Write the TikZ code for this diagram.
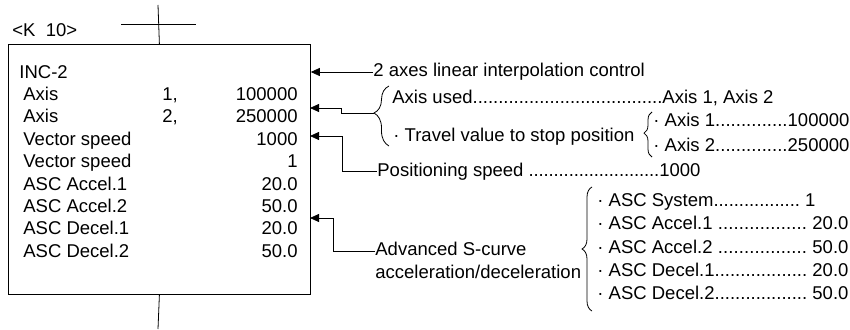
\documentclass[tikz,border=0pt]{standalone}
\usepackage{fontspec}
\setmainfont{Liberation Sans}
\usetikzlibrary{arrows.meta, positioning, decorations.pathreplacing}
\newcommand\dotrow[3]{\hbox to #1{#2\xleaders\hbox to 5pt{\hss.\hss}\hfill #3}}

\begin{document}
\begin{tikzpicture}[x=1pt, y=-1pt, line width=0.8pt,
    every node/.style={inner sep=0pt, text height=13pt, text depth=4pt,
                       font=\fontsize{18.5}{22}\selectfont},
    txt/.style={anchor=west},
    num/.style={anchor=east},
    feed/.style={-{Triangle[length=9pt, width=8pt]}},
    lbrace/.style n args={2}{decorate, decoration={brace, amplitude=#1, aspect=#2}}]
    \useasboundingbox (0,0) rectangle (850,329);
    % instruction box and contact
    \node[draw, anchor=north west, minimum width=302pt, minimum height=250pt] (inc) at (8,44) {};
    \draw (inc.north) -- (158,5);
    \draw (121,24) -- (196,24);
    \draw (inc.south) -- (158,329);
    \node[txt] (kval) at (12,32.5) {<K\ \ 10>};
    \node[txt] (inst) at (19,73.5) {INC-2};
    \node[txt] (ax1) at (23,95.9) {Axis};
    \node[txt] (ax1n) at (162,95.9) {1,};
    \node[num] (ax1v) at (298,95.9) {100000};
    \node[txt] (ax2) at (23,118.3) {Axis};
    \node[txt] (ax2n) at (162,118.3) {2,};
    \node[num] (ax2v) at (298,118.3) {250000};
    \foreach \lbl/\val [count=\i from 3] in {Vector speed/1000, Vector speed/1,
        ASC Accel.1/20.0, ASC Accel.2/50.0, ASC Decel.1/20.0, ASC Decel.2/50.0} {
      \node[txt] (row\i) at (23,73.5+22.4*\i) {\lbl};
      \node[num] (val\i) at (298,73.5+22.4*\i) {\val};
    }
    % arrow targets on the box
    \coordinate (a2) at (310,108);
    \coordinate (a3) at (310,136);
    \coordinate (a4) at (310,218);
    % interpolation
    \node[txt] (intp) at (373,72) {2 axes linear interpolation control};
    \draw[feed] (intp.west) -- (intp.west -| inc.east);
    % axes and travel value
    \node[txt] (used) at (392,98.5) {\dotrow{381pt}{Axis used}{Axis 1, Axis 2}};
    \node[txt] (trav) at (393,136.5) {· Travel value to stop position};
    \draw[lbrace={15pt}{0.55}] (389,146) -- (389,86);
    \coordinate (b1) at (374,113);
    \draw[feed] (b1) -- ++(-33,0) |- (a2);
    \node[txt] (tv1) at (653,122) {\dotrow{196pt}{· Axis 1}{100000}};
    \node[txt] (tv2) at (653,147) {\dotrow{196pt}{· Axis 2}{250000}};
    \draw[lbrace={8pt}{0.53}] (652,157) -- (652,112);
    % speed
    \node[txt] (spd) at (377,171.5) {\dotrow{323pt}{Positioning speed }{1000}};
    \draw[feed] (spd.west) -- ++(-35,0) |- (a3);
    % advanced S-curve
    \node[txt] (adv1) at (375,251) {Advanced S-curve};
    \node[txt] (adv2) at (375,273.5) {acceleration/deceleration};
    \draw[feed] (adv1.west) -- ++(-42,0) |- (a4);
    \draw[lbrace={10pt}{0.5}] (592,311) -- (592,187);
    \node[txt] (asc0) at (597,202) {\dotrow{218pt}{· ASC System}{ 1}};
    \foreach \lbl/\val [count=\i] in {{ASC Accel.1 }/20.0, {ASC Accel.2 }/50.0,
        {ASC Decel.1}/20.0, {ASC Decel.2}/50.0} {
      \node[txt] (asc\i) at (597,202+23.25*\i) {\dotrow{251pt}{· \lbl}{ \val}};
    }
\end{tikzpicture}
\end{document}
